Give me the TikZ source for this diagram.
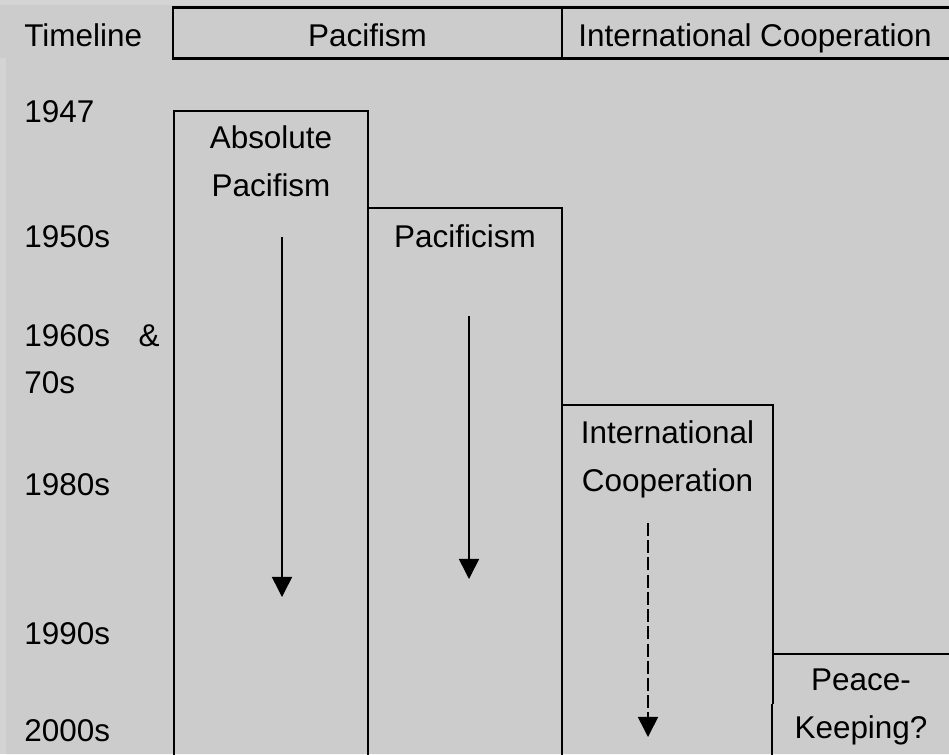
\documentclass[tikz,border=0pt]{standalone}
\usepackage{fontspec}
\setmainfont{Liberation Sans}
\usepackage{tikz}
\usetikzlibrary{
  arrows.meta,
  positioning,
}
\definecolor{cellgrey}{RGB}{204, 204, 204}
\definecolor{edgegrey}{RGB}{212, 212, 212}
\tikzstyle{trend} = [
  -{Triangle[width=11.4pt, length=11.4pt]},
  line width=0.85pt,
  black,
]
\tikzstyle{label} = [
  inner sep=0pt,
  font=\fontsize{17.9}{27.3}\selectfont,
]

\begin{document}
\begin{tikzpicture}[x=0.02cm, y=-0.02cm,
                    year/.style={label, anchor=base west},
                    era/.style={label, anchor=base, align=center},
                    heavy/.style={line width=1.6pt},
                    rule/.style={line width=1.15pt},
                    hair/.style={line width=0.65pt}]
      \useasboundingbox (0,0) rectangle (949,754);
      \fill [edgegrey] (0,0) rectangle (949,754);
      \fill [cellgrey] (0,5) rectangle (949,58) (6,58) rectangle (949,754);

      % header row
      \draw [heavy] (173,7.5) rectangle (960,58.5);
      \draw [heavy] (562,7.5) -- (562,58.5);
      \node [year] (timeline) at (24,46) {Timeline};
      \node [era] (pacHead) at (367.5,46) {Pacifism};
      \node [era] (coopHead) at (755,46) {International Cooperation};

      % years
      \node [year] (y1947) at (24,122) {1947};
      \node [year] (y1950) at (24,247) {1950s};
      \node [year, text width=77pt, align=left] (y1960) at (24,346)
            {1960s\hfill\&\\70s};
      \node [year] (y1980) at (24,495) {1980s};
      \node [year] (y1990) at (24,644) {1990s};
      \node [year] (y2000) at (24,741) {2000s};

      % columns
      \draw [rule] (174,760) -- (174,111) -- (368,111) -- (368,760);
      \draw [rule] (368,208) -- (562,208) -- (562,704);
      \draw [hair] (562,405) -- (773,405) -- (773,704);
      \draw [rule] (773,654) -- (960,654);
      \foreach \x in {174,368,562,772}
        \draw [heavy] (\x,704) -- (\x,760);

      % centred nodes sit on their last baseline
      \node [era] (absolute) at (271,196) {Absolute\\Pacifism};
      \node [era] (pacificism) at (465,247) {Pacificism};
      \node [era] (intl) at (667.5,491.7) {International\\Cooperation};
      \node [era] (peace) at (861,738) {Peace-\\Keeping?};

      % trends
      \coordinate (absTop) at (282,237);
      \coordinate (absEnd) at (282,597);
      \coordinate (pacTop) at (469,316);
      \coordinate (pacEnd) at (469,579);
      \coordinate (intlTop) at (648,523);
      \coordinate (intlEnd) at (648,737);
      \draw [trend] (absTop) -- (absEnd);
      \draw [trend] (pacTop) -- (pacEnd);
      \draw [trend, dash pattern=on 7.4pt off 2.4pt] (intlTop) -- (intlEnd);
    \end{tikzpicture}
\end{document}
